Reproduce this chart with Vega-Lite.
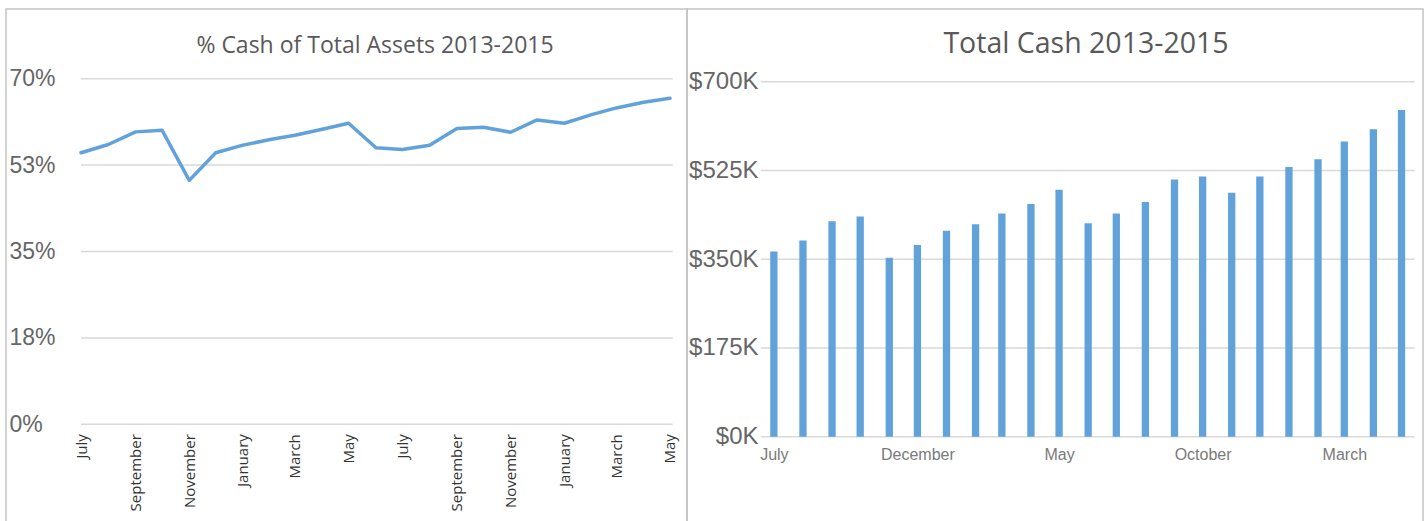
{
  "$schema": "https://vega.github.io/schema/vega-lite/v6.json",
  "padding": {"left": 5, "top": 8, "right": 0, "bottom": 0},
  "background": "white",
  "spacing": 0,
  "bounds": "flush",
  "config": {
    "view": {"stroke": "#c4c4c4", "strokeWidth": 1.5},
    "axis": {"grid": false, "domain": false, "ticks": false, "tickSize": 0, "labelPadding": 0, "labelOverlap": false, "labelFlush": false, "labelBound": false}
  },
  "datasets": {
    "months": [
      {"date": "2013-07-01", "pct": 55.0, "cash": 365000},
      {"date": "2013-08-01", "pct": 56.67, "cash": 387000},
      {"date": "2013-09-01", "pct": 59.23, "cash": 425000},
      {"date": "2013-10-01", "pct": 59.57, "cash": 434000},
      {"date": "2013-11-01", "pct": 49.4, "cash": 353000},
      {"date": "2013-12-01", "pct": 55.0, "cash": 378000},
      {"date": "2014-01-01", "pct": 56.54, "cash": 406000},
      {"date": "2014-02-01", "pct": 57.68, "cash": 419000},
      {"date": "2014-03-01", "pct": 58.56, "cash": 440000},
      {"date": "2014-04-01", "pct": 59.77, "cash": 459000},
      {"date": "2014-05-01", "pct": 60.98, "cash": 487000},
      {"date": "2014-06-01", "pct": 56.0, "cash": 421000},
      {"date": "2014-07-01", "pct": 55.66, "cash": 440000},
      {"date": "2014-08-01", "pct": 56.54, "cash": 463000},
      {"date": "2014-09-01", "pct": 59.9, "cash": 507000},
      {"date": "2014-10-01", "pct": 60.17, "cash": 513000},
      {"date": "2014-11-01", "pct": 59.16, "cash": 481000},
      {"date": "2014-12-01", "pct": 61.65, "cash": 513000},
      {"date": "2015-01-01", "pct": 60.98, "cash": 532000},
      {"date": "2015-02-01", "pct": 62.73, "cash": 547000},
      {"date": "2015-03-01", "pct": 64.08, "cash": 582000},
      {"date": "2015-04-01", "pct": 65.22, "cash": 606000},
      {"date": "2015-05-01", "pct": 66.03, "cash": 644000}
    ]
  },
  "hconcat": [
    {
      "width": 681,
      "height": 516,
      "title": {"text": "% Cash of Total Assets 2013-2015", "font": "Open Sans", "fontSize": 23, "fontWeight": "normal", "color": "#595959", "anchor": "middle", "frame": "group", "dx": 28.5, "baseline": "middle", "offset": -60},
      "layer": [
        {
          "data": {"values": [{"t": 0}, {"t": 17.5}, {"t": 35}, {"t": 52.5}, {"t": 70}]},
          "mark": {"type": "rule", "color": "#d9d9d9", "strokeWidth": 1.5},
          "encoding": {
            "y": {"field": "t", "type": "quantitative", "title": null,
              "scale": {"domain": [-20.4, 84.12], "nice": false, "zero": false},
              "axis": {"values": [0, 17.5, 35, 52.5, 70], "labelExpr": "round(datum.value) + '%'", "labelAlign": "left", "labelBaseline": "middle", "labelFont": "Liberation Sans", "labelFontSize": 23, "labelColor": "#666666", "offset": -3}},
            "x": {"datum": {"year": 2013, "month": 7, "date": 1, "utc": true}, "type": "temporal", "title": null,
              "scale": {"type": "utc", "nice": false, "domain": [{"year": 2013, "month": 4, "date": 6, "hours": 19, "minutes": 26, "utc": true}, {"year": 2015, "month": 5, "date": 20, "hours": 7, "minutes": 26, "utc": true}]},
              "axis": {"orient": "bottom", "offset": -91.3,
                "values": [{"year": 2013, "month": 7, "date": 1, "utc": true}, {"year": 2013, "month": 9, "date": 1, "utc": true}, {"year": 2013, "month": 11, "date": 1, "utc": true}, {"year": 2014, "month": 1, "date": 1, "utc": true}, {"year": 2014, "month": 3, "date": 1, "utc": true}, {"year": 2014, "month": 5, "date": 1, "utc": true}, {"year": 2014, "month": 7, "date": 1, "utc": true}, {"year": 2014, "month": 9, "date": 1, "utc": true}, {"year": 2014, "month": 11, "date": 1, "utc": true}, {"year": 2015, "month": 1, "date": 1, "utc": true}, {"year": 2015, "month": 3, "date": 1, "utc": true}, {"year": 2015, "month": 5, "date": 1, "utc": true}],
                "labelExpr": "utcFormat(datum.value, '%B')", "labelAngle": 270, "labelAlign": "right", "labelBaseline": "middle", "labelFont": "Open Sans", "labelFontSize": 15, "labelColor": "#333333"}},
            "x2": {"datum": {"year": 2015, "month": 5, "date": 4, "utc": true}}
          }
        },
        {
          "data": {"name": "months"},
          "mark": {"type": "line", "color": "#62a2da", "strokeWidth": 3.5, "strokeJoin": "round", "strokeCap": "round"},
          "encoding": {
            "x": {"field": "date", "type": "temporal", "title": null},
            "y": {"field": "pct", "type": "quantitative", "title": null}
          }
        }
      ]
    },
    {
      "width": 736,
      "height": 516,
      "title": {"text": "Total Cash 2013-2015", "font": "Open Sans", "fontSize": 28.5, "fontWeight": "normal", "color": "#595959", "anchor": "middle", "frame": "group", "dx": 31, "baseline": "middle", "offset": -63},
      "layer": [
        {
          "data": {"values": [{"t": 0}, {"t": 175000}, {"t": 350000}, {"t": 525000}, {"t": 700000}]},
          "mark": {"type": "rule", "color": "#d9d9d9", "strokeWidth": 1.5},
          "encoding": {
            "y": {"field": "t", "type": "quantitative", "title": null,
              "scale": {"domain": [-174100, 843350], "nice": false, "zero": false},
              "axis": {"values": [0, 175000, 350000, 525000, 700000], "labelExpr": "'$' + format(datum.value / 1000, '.0f') + 'K'", "labelAlign": "right", "labelBaseline": "middle", "labelFont": "Liberation Sans", "labelFontSize": 24, "labelColor": "#666666", "offset": -71}},
            "x": {"datum": {"year": 2013, "month": 6, "date": 17, "utc": true}, "type": "temporal", "title": null,
              "scale": {"type": "utc", "nice": false, "domain": [{"year": 2013, "month": 4, "date": 4, "hours": 17, "minutes": 31, "utc": true}, {"year": 2015, "month": 5, "date": 18, "hours": 13, "minutes": 26, "utc": true}]},
              "axis": {"orient": "bottom", "offset": -66,
                "values": [{"year": 2013, "month": 7, "date": 1, "utc": true}, {"year": 2013, "month": 12, "date": 1, "utc": true}, {"year": 2014, "month": 5, "date": 1, "utc": true}, {"year": 2014, "month": 10, "date": 1, "utc": true}, {"year": 2015, "month": 3, "date": 1, "utc": true}],
                "labelExpr": "utcFormat(datum.value, '%B')", "labelAngle": 0, "labelAlign": "center", "labelBaseline": "alphabetic", "labelFont": "Liberation Sans", "labelFontSize": 16, "labelColor": "#7a7a7a"}},
            "x2": {"datum": {"year": 2015, "month": 5, "date": 15, "utc": true}}
          }
        },
        {
          "data": {"name": "months"},
          "mark": {"type": "bar", "size": 7.3, "color": "#62a2da"},
          "encoding": {
            "x": {"field": "date", "type": "temporal", "title": null},
            "y": {"field": "cash", "type": "quantitative", "title": null}
          }
        }
      ]
    }
  ]
}
